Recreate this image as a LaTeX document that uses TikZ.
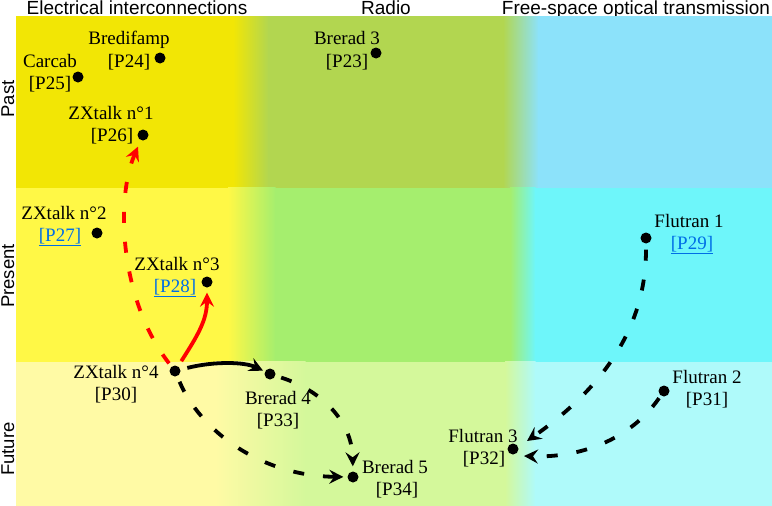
\documentclass[tikz,border=0pt]{standalone}
\usepackage{fontspec}
\setmainfont{Liberation Serif}
\newfontfamily\hdfont{Liberation Sans}
\usetikzlibrary{arrows.meta}
\definecolor{pastY}{RGB}{242,230,5}
\definecolor{pastG}{RGB}{178,214,80}
\definecolor{pastC}{RGB}{140,226,250}
\definecolor{presY}{RGB}{255,248,70}
\definecolor{presG}{RGB}{165,238,110}
\definecolor{presC}{RGB}{110,246,250}
\definecolor{futY}{RGB}{255,250,165}
\definecolor{futG}{RGB}{212,248,155}
\definecolor{futC}{RGB}{175,250,250}
\definecolor{linkblue}{RGB}{0,110,230}
\definecolor{arrred}{RGB}{255,0,0}
\tikzset{
  dotnode/.style={circle,fill=black,inner sep=0pt,minimum size=11pt},
  lbl/.style={anchor=base,font=\fontsize{19}{22}\selectfont,inner sep=0pt},
  linklbl/.style={lbl,text=linkblue},
  hdr/.style={anchor=base,font=\hdfont\fontsize{19}{22}\selectfont,inner sep=0pt},
  rowlbl/.style={anchor=base,rotate=90,font=\hdfont\fontsize{18.5}{22}\selectfont,inner sep=0pt},
  conn/.style={line width=3.8pt,-{Stealth[length=14pt,width=14pt,inset=5pt]}},
  dsh/.style={dash pattern=on 11pt off 19pt}
}
\newcommand{\linktext}[1]{\underline{#1}}
\begin{document}
\begin{tikzpicture}[x=1pt,y=-1pt]
\useasboundingbox (0,0) rectangle (772,506);
% headers (drawn first, background covers descenders)
\node[hdr] (h1) at (137,15) {Electrical interconnections};
\node[hdr] (h2) at (386,15) {Radio};
\node[hdr] (h3) at (636,15) {Free-space optical transmission};
% backgrounds: past
\fill[pastY] (16,16) rectangle (233.5,188);
\shade[left color=pastY,right color=pastG] (233,16) rectangle (268.5,188);
\fill[pastG] (268,16) rectangle (503.5,188);
\shade[left color=pastG,right color=pastC] (503,16) rectangle (538.5,188);
\fill[pastC] (538,16) rectangle (772,188);
% present
\fill[presY] (16,187.5) rectangle (228.5,362);
\shade[left color=presY,right color=presG] (228,187.5) rectangle (275.5,362);
\fill[presG] (275,187.5) rectangle (510.5,362);
\shade[left color=presG,right color=presC] (510,187.5) rectangle (535.5,362);
\fill[presC] (535,187.5) rectangle (772,362);
% future
\fill[futY] (16,361.5) rectangle (215.5,506);
\shade[left color=futY,right color=futG] (215,361.5) rectangle (305.5,506);
\fill[futG] (305,361.5) rectangle (505.5,506);
\shade[left color=futG,right color=futC] (505,361.5) rectangle (535.5,506);
\fill[futC] (535,361.5) rectangle (772,506);
% row labels
\node[rowlbl] (rpast) at (14,99) {Past};
\node[rowlbl] (rpres) at (14,276) {Present};
\node[rowlbl] (rfut) at (14,449) {Future};
% dots
\node[dotnode] (carcab) at (78,77) {};
\node[dotnode] (bredi) at (160,58) {};
\node[dotnode] (brerad3) at (376,53) {};
\node[dotnode] (zx1) at (143,135) {};
\node[dotnode] (zx2) at (97,233) {};
\node[dotnode] (zx3) at (207,282) {};
\node[dotnode] (zx4) at (175,371) {};
\node[dotnode] (brerad4) at (270,374) {};
\node[dotnode] (brerad5) at (353,477) {};
\node[dotnode] (flu1) at (646,238) {};
\node[dotnode] (flu2) at (664,391) {};
\node[dotnode] (flu3) at (513,449) {};
% labels
\node[lbl] (carcabA) at (50,67) {Carcab};
\node[lbl] (carcabB) at (50,89) {[P25]};
\node[lbl] (brediA) at (129,45) {Bredifamp};
\node[lbl] (brediB) at (129,67) {[P24]};
\node[lbl] (brerad3A) at (347,45) {Brerad 3};
\node[lbl] (brerad3B) at (347,67) {[P23]};
\node[lbl] (zx1A) at (111,119) {ZXtalk n°1};
\node[lbl] (zx1B) at (112,141) {[P26]};
\node[lbl] (zx2A) at (64,219) {ZXtalk n°2};
\node[linklbl] (zx2B) at (60,241) {\linktext{[P27]}};
\node[lbl] (zx3A) at (177,270) {ZXtalk n°3};
\node[linklbl] (zx3B) at (175,292) {\linktext{[P28]}};
\node[lbl] (zx4A) at (116,378) {ZXtalk n°4};
\node[lbl] (zx4B) at (116,400) {[P30]};
\node[lbl] (brerad4A) at (278,404) {Brerad 4};
\node[lbl] (brerad4B) at (278,426) {[P33]};
\node[lbl] (brerad5A) at (395,473) {Brerad 5};
\node[lbl] (brerad5B) at (397,495) {[P34]};
\node[lbl] (flu1A) at (689,227) {Flutran 1};
\node[linklbl] (flu1B) at (692,249) {\linktext{[P29]}};
\node[lbl] (flu2A) at (707,383) {Flutran 2};
\node[lbl] (flu2B) at (707,405) {[P31]};
\node[lbl] (flu3A) at (483,442) {Flutran 3};
\node[lbl] (flu3B) at (484,464) {[P32]};
% connectors
\draw[conn,dsh,arrred,shorten <=4pt,shorten >=7pt] (zx4) .. controls (120,300) and (115,200) .. (zx1);
\draw[conn,arrred,shorten <=6pt,shorten >=5pt] (zx4) .. controls (198,335) and (207,320) .. (zx3);
\draw[conn,shorten <=7pt,shorten >=2pt] (zx4) .. controls (215,361) and (245,362) .. (brerad4);
\draw[conn,dsh,shorten <=6pt,shorten >=5pt] (brerad4) .. controls (320,390) and (352,420) .. (brerad5);
\draw[conn,dsh,shorten <=6pt,shorten >=4pt] (zx4) .. controls (200,430) and (260,476) .. (brerad5);
\draw[conn,dsh,shorten <=6pt] (flu1) .. controls (646,330) and (600,390) .. ([xshift=14pt,yshift=8pt]flu3.center);
\draw[conn,dsh,shorten <=3pt] (flu2) .. controls (630,440) and (580,458) .. ([xshift=11pt,yshift=-7pt]flu3.center);
\end{tikzpicture}
\end{document}
